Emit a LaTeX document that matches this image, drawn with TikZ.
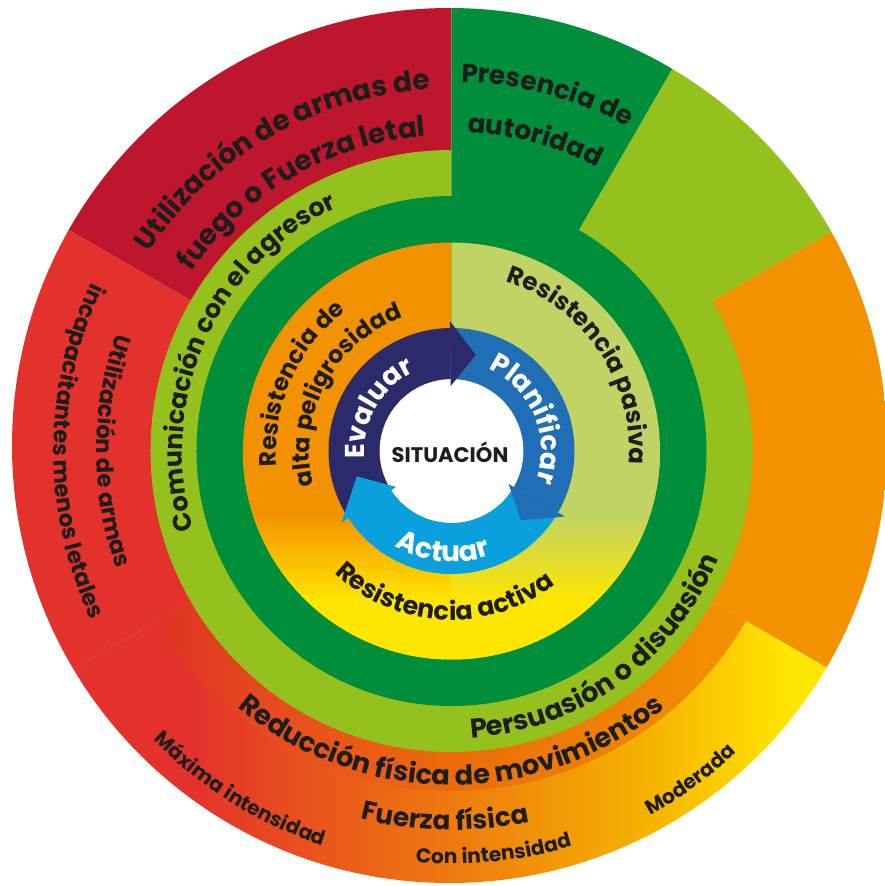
\documentclass[tikz,border=0pt]{standalone}
\usepackage{fontspec}
\setmainfont{Poppins}
\usetikzlibrary{decorations.text}

\definecolor{fuegored}{RGB}{190,22,44}
\definecolor{lessred}{RGB}{227,49,43}
\definecolor{authgreen}{RGB}{0,142,58}
\definecolor{limegreen}{RGB}{149,193,31}
\definecolor{amber}{RGB}{243,146,0}
\definecolor{pasivagreen}{RGB}{192,211,100}
\definecolor{activayellow}{RGB}{255,230,0}
\definecolor{redorange}{RGB}{232,80,30}
\definecolor{midorange}{RGB}{238,122,14}
\definecolor{amberyellow}{RGB}{245,180,0}
\definecolor{bandred}{RGB}{222,52,35}
\definecolor{bandorange}{RGB}{234,108,10}
\definecolor{evalnavy}{RGB}{43,42,107}
\definecolor{planblue}{RGB}{31,110,182}
\definecolor{actblue}{RGB}{10,160,222}
\definecolor{inkblack}{RGB}{29,29,27}

\pgfdeclarehorizontalshading{fuerzagrad}{100bp}{color(0bp)=(lessred); color(25bp)=(lessred); color(33bp)=(lessred); color(40bp)=(redorange); color(50bp)=(midorange); color(63bp)=(amberyellow); color(72bp)=(activayellow); color(100bp)=(activayellow)}
\pgfdeclarehorizontalshading{bandgrad}{100bp}{color(0bp)=(bandred); color(25bp)=(bandred); color(37bp)=(redorange); color(50bp)=(bandorange); color(75bp)=(amber); color(100bp)=(amber)}
\pgfdeclareverticalshading{altagrad}{100bp}{color(0bp)=(activayellow); color(39bp)=(activayellow); color(60bp)=(amber); color(100bp)=(amber)}
\pgfdeclareverticalshading{pasivagrad}{100bp}{color(0bp)=(activayellow); color(39bp)=(activayellow); color(60bp)=(pasivagreen); color(100bp)=(pasivagreen)}

% text bent along an arc: [colour]{start}{end}{radius}{size}{text}
\newcommand{\bendtext}[6][inkblack]{%
  \path[decorate, decoration={text along path, text align=center, text color=#1,
      text={|\fontsize{#5}{#5}\selectfont\bfseries|#6}}]
    (#2:#4) arc[start angle=#2, end angle=#3, radius=#4];}

\begin{document}
\begin{tikzpicture}[scale=0.02]

\fill[white] (-451.5,-435) rectangle (433.5,451);
\useasboundingbox (-451.5,-435) rectangle (433.5,451);

% outer ring
\begin{scope}
\clip (-2,5.5) circle[radius=437.5];
\foreach \a/\b/\c in {90/150/fuegored, 150/210/lessred, -30/30/amber, 30/60/limegreen, 60/90/authgreen}{
	\fill[\c] (0,0) -- (\a:445) arc[start angle=\a, end angle=\b, radius=445] -- cycle;
}
\shade[shading=fuerzagrad] (0,0) -- (210:445) arc[start angle=210, end angle=330, radius=445] -- cycle;
\shade[shading=bandgrad] (0,0) -- (210:340) arc[start angle=210, end angle=330, radius=340] -- cycle;
\end{scope}

% green rings
\fill[limegreen] (0,0) -- (90:301) arc[start angle=90, end angle=420, radius=301] -- cycle;
\fill[authgreen] (0,0) circle[radius=255];

% resistencias
\fill[activayellow] (0,0) -- (180:208.5) arc[start angle=180, end angle=360, radius=208.5] -- cycle;
\fill[amber] (0,0) -- (90:208.5) arc[start angle=90, end angle=180, radius=208.5] -- cycle;
\fill[pasivagreen] (0,0) -- (0:208.5) arc[start angle=0, end angle=90, radius=208.5] -- cycle;
\shade[shading=altagrad] (0,0) -- (180:208.5) arc[start angle=180, end angle=270, radius=208.5] -- cycle;
\shade[shading=pasivagrad] (0,0) -- (270:208.5) arc[start angle=270, end angle=360, radius=208.5] -- cycle;

% ciclo
\fill[white] (0,0) circle[radius=72];
\fill[evalnavy] (213:123) arc[start angle=213, end angle=90.7, radius=123] -- (90.7:72) arc[start angle=90.7, end angle=213, radius=72] -- cycle;
\fill[planblue] (90.7:123) arc[start angle=90.7, end angle=-30, radius=123] -- (-30:72) arc[start angle=-30, end angle=90.7, radius=72] -- cycle;
\fill[actblue] (-30:123) arc[start angle=-30, end angle=-147, radius=123] -- (-147:72) arc[start angle=-147, end angle=-30, radius=72] -- cycle;
\fill[evalnavy] (90.7:130) -- (75.8:99) -- (90.7:65) -- cycle;
\fill[planblue] (-30:131) -- (-45:98) -- (-30:66) -- cycle;
\fill[actblue] (-147:131) -- (-165:98) -- (-147:66) -- cycle;

\node[font=\fontsize{12}{13}\selectfont\bfseries, text=inkblack] (situacion) at (-1.5,-1) {SITUACIÓN};

% labels, outer ring
\bendtext{170}{70}{362}{16}{Utilización de armas de}
\bendtext{170}{70}{316}{16}{fuego o Fuerza letal}
\bendtext{125}{25}{369}{15}{Presencia de}
\bendtext{125}{25}{319}{15}{autoridad}
\bendtext{236}{76}{269}{14.5}{Comunicación con el agresor}
\bendtext{-124}{16}{288}{15.5}{Persuasión o disuasión}
\bendtext{190}{350}{334}{15.5}{Reducción física de movimientos}
\bendtext{209}{329}{379}{15}{Fuerza física}
\bendtext{198}{278}{415}{11.5}{Máxima intensidad}
\bendtext{236}{316}{413}{11.5}{Con intensidad}
\bendtext{266}{346}{415}{11.5}{Moderada}
\bendtext{130}{230}{355}{13}{Utilización de armas}
\bendtext{130}{230}{398}{13}{incapacitantes menos letales}

% labels, resistencias
\bendtext{216}{96}{175}{13.5}{Resistencia de}
\bendtext{212}{92}{142}{13.5}{alta peligrosidad}
\bendtext{94}{-26}{178}{14}{Resistencia pasiva}
\bendtext{207}{327}{169}{14.5}{Resistencia activa}

% labels, ciclo
\bendtext[white]{210}{90}{87}{15.5}{Evaluar}
\bendtext[white]{83}{-37}{90}{15.5}{Planificar}
\bendtext[white]{205}{325}{111}{16}{Actuar}

\end{tikzpicture}
\end{document}
